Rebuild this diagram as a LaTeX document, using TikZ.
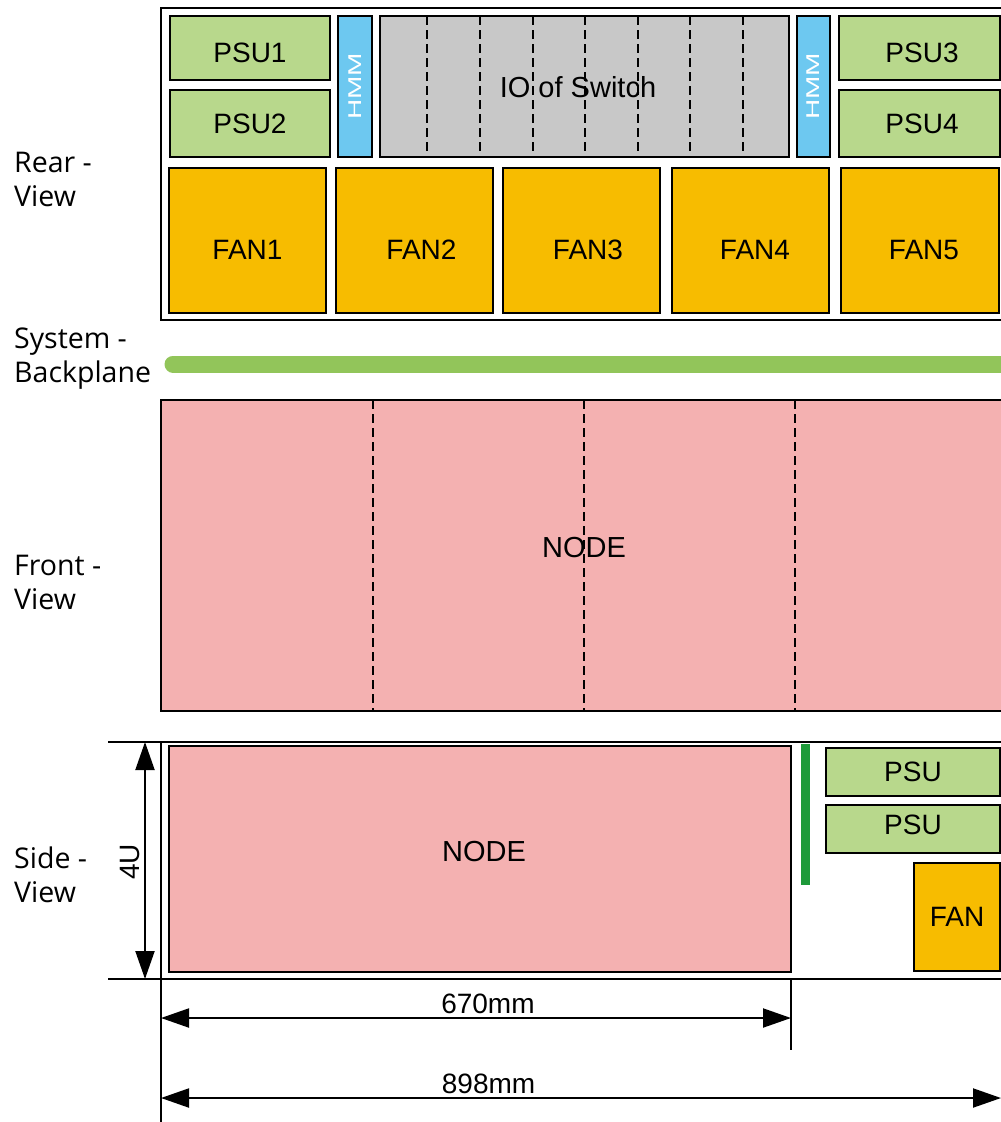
\documentclass[tikz,border=0pt]{standalone}
\usepackage{fontspec}
\setmainfont{Liberation Sans}
\newfontfamily\viewfont{Open Sans}
\usetikzlibrary{arrows.meta, positioning}

\definecolor{psugreen}{HTML}{B8D88C}
\definecolor{hmmblue}{HTML}{6DC8F0}
\definecolor{iogray}{HTML}{C8C8C8}
\definecolor{fanorange}{HTML}{F7BC00}
\definecolor{nodepink}{HTML}{F4B1B1}
\definecolor{planegreen}{HTML}{92C55A}
\definecolor{bargreen}{HTML}{1E9A3A}

\begin{document}
\begin{tikzpicture}[
    x=1pt, y=-1pt,
    frame/.style={draw, line width=2.2pt, anchor=north west, inner sep=0pt, outer sep=0pt},
    unit/.style={frame, font=\fontsize{28}{30}\selectfont},
    psu/.style={unit, fill=psugreen},
    hmm/.style={unit, fill=hmmblue, text=white},
    io/.style={unit, fill=iogray},
    fan/.style={unit, fill=fanorange},
    board/.style={unit, fill=nodepink, font=\fontsize{29}{30}\selectfont},
    lower/.style={text height=#1, text depth=0pt},
    raise/.style={text depth=#1},
    slot/.style={dashed, dash pattern=on 9pt off 5pt, line width=2pt},
    view/.style={anchor=west, align=left, inner sep=0pt, font=\viewfont\fontsize{28.5}{34}\selectfont},
    dim/.style={{Triangle[length=28pt, width=19pt]}-{Triangle[length=28pt, width=19pt]}, line width=2pt},
    dimtext/.style={font=\fontsize{28}{30}\selectfont}
]
    \useasboundingbox (0,0) rectangle (1001,1122);
    \clip (0,0) rectangle (1001,1122);

    % View labels
    \node[view] (rearlbl) at (14,179) {Rear -\\View};
    \node[view] (planelbl) at (14,359) {System -\\Backplane};
    \node[view] (frontlbl) at (14,582) {Front -\\View};
    \node[view] (sidelbl) at (14,875) {Side -\\View};

    % Rear view
    \node[frame, minimum width=850, minimum height=312] (rear) at (161,8) {};
    \node[psu, lower=29pt, minimum width=160, minimum height=64] (psu1) at (170,16) {PSU1};
    \node[psu, minimum width=160, minimum height=67] (psu2) at (170,90) {PSU2};
    \node[hmm, minimum width=34, minimum height=141] (hmmL) at (338,16) {};
    \node[rotate=90, text=white, font=\fontsize{28}{30}\selectfont] at (hmmL.center) {\scalebox{1}[0.66]{HMM}};
    \node[io, minimum width=409, minimum height=141] (io) at (380,16) {};
    \node[font=\fontsize{29}{30}\selectfont] (iolbl) at (578,87) {IO of Switch};
    \foreach \x in {427,480,533,585,638,690,743}
        \draw[slot] (\x,16) -- (\x,157);
    \node[hmm, minimum width=33, minimum height=141] (hmmR) at (797,16) {};
    \node[rotate=90, text=white, font=\fontsize{28}{30}\selectfont] at (hmmR.center) {\scalebox{1}[0.66]{HMM}};
    \node[psu, lower=29pt, minimum width=161, minimum height=64] (psu3) at (839,16) {\hspace*{5pt}PSU3};
    \node[psu, minimum width=161, minimum height=67] (psu4) at (839,90) {\hspace*{5pt}PSU4};
    \node[fan, lower=37pt, minimum width=157, minimum height=145] (fan1) at (169,168) {FAN1};
    \node[fan, lower=37pt, minimum width=157, minimum height=145] (fan2) at (336,168) {\hspace*{14pt}FAN2};
    \node[fan, lower=37pt, minimum width=157, minimum height=145] (fan3) at (503,168) {\hspace*{13pt}FAN3};
    \node[fan, lower=37pt, minimum width=157, minimum height=145] (fan4) at (672,168) {\hspace*{9pt}FAN4};
    \node[fan, lower=37pt, minimum width=158, minimum height=145] (fan5) at (841,168) {\hspace*{8pt}FAN5};

    % Backplane
    \draw[planegreen, line width=17pt, line cap=round] (173,364) -- (1020,364);

    % Front view
    \node[board, minimum width=850, minimum height=311] (front) at (161,400) {};
    \node[font=\fontsize{29}{30}\selectfont] (frontnode) at (584,548) {NODE};
    \foreach \x in {373,584,795}
        \draw[slot] (\x,400) -- (\x,711);

    % Side view
    \node[frame, minimum width=850, minimum height=237] (side) at (161,742) {};
    \node[board, raise=16pt, minimum width=622, minimum height=226] (sidenode) at (169,746) {\hspace*{8pt}NODE};
    \fill[bargreen] (801,744) rectangle (810,885);
    \node[psu, minimum width=174, minimum height=48] (spsu1) at (826,748) {PSU};
    \node[psu, raise=8pt, minimum width=174, minimum height=48] (spsu2) at (826,805) {PSU};
    \node[fan, minimum width=86, minimum height=108] (sfan) at (914,863) {FAN};

    % Dimensions
    \coordinate (htop) at (145,742);
    \coordinate (hbot) at (145,979);
    \draw[line width=2pt] (108,742) -- (side.north west);
    \draw[line width=2pt] (108,979) -- (side.south west);
    \draw[dim] (htop) -- (hbot);
    \node[rotate=90, dimtext] (height) at (130,862) {4U};
    \coordinate (wleft) at (161,1122);
    \coordinate (nodeend) at (791,1050);
    \draw[line width=2pt] (side.south west) -- (wleft);
    \draw[line width=2pt] (sidenode.south east |- side.south) -- (nodeend);
    \coordinate (a1) at (161,1018);
    \coordinate (a2) at (791,1018);
    \coordinate (b1) at (161,1098);
    \coordinate (b2) at (1001,1098);
    \draw[dim] (a1) -- node[pos=0.519, above, dimtext] {670mm} (a2);
    \draw[dim] (b1) -- node[pos=0.39, above, dimtext] {898mm} (b2);
\end{tikzpicture}
\end{document}
